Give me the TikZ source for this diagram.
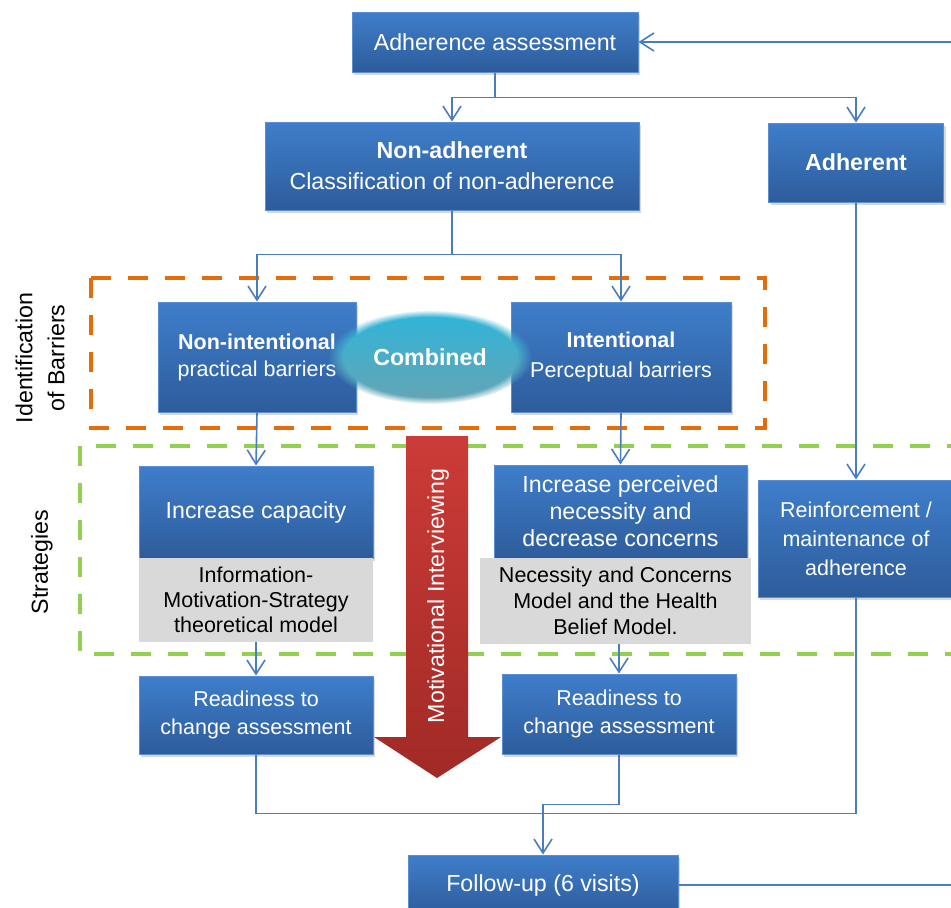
\documentclass[tikz,border=0pt]{standalone}
\usepackage{fontspec}
\setmainfont{Liberation Sans}
\usetikzlibrary{arrows.meta,shadows,shapes.geometric,fadings}

\definecolor{boxtop}{HTML}{3F7ECB}
\definecolor{boxbot}{HTML}{2D5C9B}
\definecolor{boxline}{HTML}{5A8ED0}
\definecolor{wire}{HTML}{4A7DC0}
\definecolor{barrier}{HTML}{E46C0A}
\definecolor{strat}{HTML}{92D050}
\definecolor{theory}{HTML}{D9D9D9}
\definecolor{mitop}{HTML}{CC3B37}
\definecolor{mibot}{HTML}{A12A26}
\definecolor{combtop}{HTML}{2EB5DA}
\definecolor{combbot}{HTML}{66A4B3}

\newcommand\txtbig{\fontsize{11.6}{13.5}\selectfont}
\newcommand\txtsmall{\fontsize{10.75}{13.5}\selectfont}

\tikzset{
  bluebox/.style={rectangle, draw=boxline, line width=0.5pt,
    top color=boxtop, bottom color=boxbot, text=white, align=center,
    inner sep=0pt, font=\txtbig,
    drop shadow={opacity=0.3, shadow xshift=1pt, shadow yshift=-1.5pt}},
  greybox/.style={rectangle, fill=theory, text=black, align=center,
    inner sep=0pt, font=\txtsmall},
  wire/.style={draw=wire, line width=0.8pt},
  wirearrow/.style={wire, -{Straight Barb[length=7pt,width=9pt]}},
  zone/.style={line width=2.4pt, dash pattern=on 10pt off 8.5pt},
}

\begin{document}
\begin{tikzpicture}[x=0.5pt,y=-0.5pt]

  \newcommand\LW{117pt};

  \useasboundingbox (0,0) rectangle (951,907);
  \clip (0,0) rectangle (951,907);

  %% dashed zones
  \draw[zone, barrier] (91,278) rectangle (765,428);
  \draw[zone, strat] (80,446) rectangle (1000,654);

  \node[rotate=90, align=center, font=\txtbig, inner sep=0pt] (barrierlbl)
    at (40,358) {Identification\\[2.5pt]of Barriers};
  \node[rotate=90, font=\txtbig, inner sep=0pt] (stratlbl) at (42,562) {Strategies};

  %% top
  \node[bluebox, minimum width=143pt, minimum height=30pt] (assess)
    at (495,42) {Adherence assessment};
  \node[bluebox, minimum width=187pt, minimum height=44pt] (nonadh)
    at (452,166) {\textbf{Non-adherent}\\[2pt]Classification of non-adherence};
  \node[bluebox, minimum width=87.5pt, minimum height=39.5pt] (adh)
    at (856,162.5) {\textbf{Adherent}};

  %% barriers
  \node[bluebox, font=\txtsmall, minimum width=99pt, minimum height=55pt] (nonint)
    at (257,357) {\textbf{Non-intentional}\\practical barriers};
  \node[bluebox, font=\txtsmall, minimum width=110pt, minimum height=55pt] (intent)
    at (621,357) {\textbf{Intentional}\\[1.5pt]Perceptual barriers};
  \node[ellipse, top color=combtop, bottom color=combbot, text=white,
    font=\txtbig\bfseries, inner sep=0pt, minimum width=102pt, minimum height=47pt,
    path fading=circle with fuzzy edge 15 percent] (comb) at (430,357) {Combined};

  %% strategies
  \node[bluebox, minimum width=\LW, minimum height=46pt] (capacity)
    at (256,512) {Increase capacity};
  \node[greybox, minimum width=\LW, minimum height=42pt] (ims)
    at (256,600) {Information-\\[-1pt]Motivation-Strategy\\[-1pt]theoretical model};
  \node[bluebox, minimum width=126.5pt, minimum height=46.5pt] (perceived)
    at (620.5,511.5) {Increase perceived\\necessity and\\decrease concerns};
  \node[greybox, minimum width=135.5pt, minimum height=43pt] (ncm)
    at (615.5,601) {Necessity and Concerns\\[-0.5pt]Model and the Health\\[-0.5pt]Belief Model.};
  \node[bluebox, font=\txtsmall, minimum width=98pt, minimum height=58.5pt] (reinf)
    at (856,538.5) {Reinforcement /\\[1pt]maintenance of\\[1pt]adherence};

  %% motivational interviewing
  \shade[top color=mitop, bottom color=mibot]
    (406,436) -- (468,436) -- (468,737) -- (501,737) -- (437,778)
    -- (374,737) -- (406,737) -- cycle;
  \node[rotate=90, text=white, font=\txtbig, inner sep=0pt] (mi)
    at (438,596) {Motivational Interviewing};

  %% readiness + follow-up
  \node[bluebox, font=\txtsmall, minimum width=\LW, minimum height=39pt] (ready1)
    at (256,715) {Readiness to\\[0.5pt]change assessment};
  \node[bluebox, font=\txtsmall, minimum width=117pt, minimum height=40pt] (ready2)
    at (619,714) {Readiness to\\[0.5pt]change assessment};
  \node[bluebox, minimum width=135pt, minimum height=30pt] (follow)
    at (543,885) {Follow-up (6 visits)};

  %% connectors
  \draw[wirearrow] (assess.south) -- ++(0,25) -| (nonadh.north); %% assess -> non-adherent
  \draw[wirearrow] (assess.south) -- ++(0,25) -| (adh.north);    %% assess -> adherent
  \draw[wirearrow] (nonadh.south) -- ++(0,44) -| (nonint.north);
  \draw[wirearrow] (nonadh.south) -- ++(0,44) -| (intent.north);
  \draw[wirearrow] (nonint.south) -- (capacity.north);
  \draw[wirearrow] (intent.south) -- (perceived.north);
  \draw[wirearrow] (adh.south) -- (reinf.north);
  \draw[wirearrow] (ims.south) -- (ready1.north);
  \draw[wirearrow] (ncm.south -| ready2.north) -- (ready2.north);
  \draw[wire] (ready1.south) -- ++(0,59) -| (reinf.south);       %% join
  \draw[wirearrow] (ready2.south) -- ++(0,50) -| (follow.north);
  \draw[wirearrow] (follow.east) -- ++(400,0) |- (assess.east);  %% loop back

\end{tikzpicture}
\end{document}
